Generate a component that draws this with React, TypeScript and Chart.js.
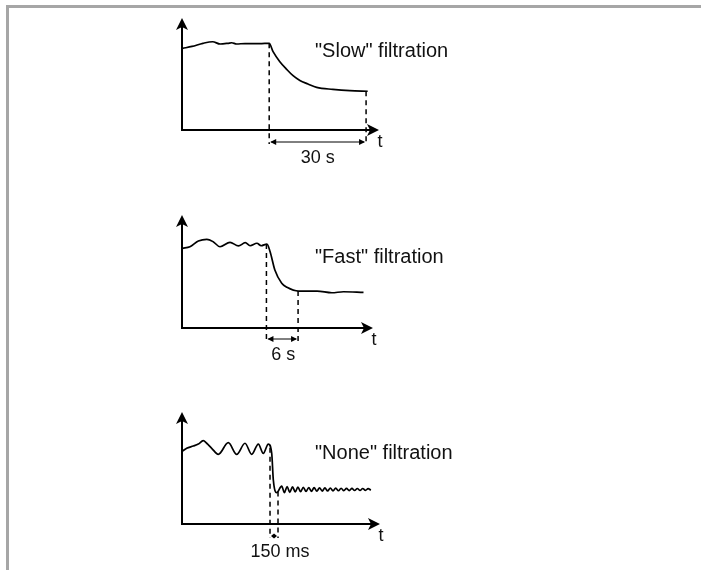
import React, { useEffect, useRef } from "react";
import { Chart, registerables } from "chart.js";

Chart.register(...registerables);

// ---------- Data (time on x, signal level in % of the y-axis on y) ----------

// Panel 1: "Slow" filtration, time in s
const slowTitle = '"Slow" filtration';
const slowTimes = [0.2, 3.1, 6.5, 9.5, 11.8, 14.2, 15.4, 16.9, 19.5, 22.0, 24.7, 27.0, 28.2, 30.3, 32.4, 34.3, 36.5, 39.0, 41.7, 46.7, 52.0, 57.5];
const slowLevels = [72.9, 74.6, 77.4, 78.8, 76.8, 77.4, 77.9, 76.8, 77.2, 77.1, 77.2, 77.4, 69.9, 61.0, 54.2, 48.7, 44.2, 41.1, 38.1, 36.3, 35.1, 34.6];
const slowMarkerTimes = [27, 57];
const slowMarkerLevels = [77.4, 34.6];
const slowMarkerLabel = "30 s";
const slowTimeMax = 61;

// Panel 2: "Fast" filtration, time in s
const fastTitle = '"Fast" filtration';
const fastTimes = [0.1, 1.5, 3.1, 4.7, 5.9, 7.2, 9.1, 10.7, 12.0, 12.9, 14.2, 15.0, 16.1, 16.7, 17.6, 18.9, 19.9, 22.1, 25.6, 28.4, 30.6, 34.4];
const fastLevels = [70.5, 71.9, 77.0, 78.5, 76.4, 71.9, 75.8, 72.6, 75.5, 72.8, 75.0, 72.8, 74.3, 67.5, 51.3, 39.6, 36.0, 32.7, 32.7, 31.2, 32.1, 31.6];
const fastMarkerTimes = [16, 22];
const fastMarkerLevels = [74.3, 32.7];
const fastMarkerLabel = "6 s";
const fastTimeMax = 36.2;

// Panel 3: "None" filtration, time in ms
const noneTitle = '"None" filtration';
const noneTimes = [13, 88, 212, 306, 399, 463, 557, 681, 868, 1026, 1181, 1307, 1431, 1524, 1618, 1682, 1712, 1776,
  1869, 1920, 1971, 2021, 2072, 2123, 2173, 2224, 2274, 2325, 2376, 2426, 2477, 2528, 2578, 2629, 2679, 2730,
  2781, 2831, 2882, 2933, 2983, 3034, 3084, 3135, 3186, 3236, 3287, 3338, 3388, 3439, 3489, 3540];
const noneLevels = [65.2, 67.6, 69.6, 71.4, 74.4, 72.1, 67.6, 62.2, 72.6, 62.2, 72.1, 62.2, 71.4, 63.1, 71.4, 63.1, 39.3, 27.9,
  33.8, 28.0, 33.5, 28.3, 33.2, 28.6, 33.0, 28.8, 32.8, 29.0, 32.6, 29.2, 32.4, 29.3, 32.3, 29.4, 32.2, 29.5,
  32.1, 29.6, 32.0, 29.7, 31.9, 29.8, 31.8, 29.8, 31.8, 29.9, 31.7, 29.9, 31.7, 30.0, 31.6, 30.2];
const noneMarkerTimes = [1650, 1800];
const noneMarkerLevels = [68, 29];
const noneMarkerLabel = "150 ms";
const noneTimeMax = 3712;

const timeAxisLabel = "t";

// ---------- Layout / style ----------
const FONT = "'Liberation Sans', Arial, Helvetica, sans-serif";

type PanelCfg = {
  title: string;
  times: number[];
  levels: number[];
  markerTimes: number[];
  markerLevels: number[];
  markerLabel: string;
  timeMax: number;
  top: number;
  padding: { left: number; right: number; top: number; bottom: number };
  titleDy: number;
  arrowGap: number;
  labelShift: number;
};

const panels: PanelCfg[] = [
  {
    title: slowTitle, times: slowTimes, levels: slowLevels, markerTimes: slowMarkerTimes,
    markerLevels: slowMarkerLevels, markerLabel: slowMarkerLabel, timeMax: slowTimeMax,
    top: 0, padding: { left: 182, right: 322, top: 18, bottom: 60 }, titleDy: 39, arrowGap: 12, labelShift: 0,
  },
  {
    title: fastTitle, times: fastTimes, levels: fastLevels, markerTimes: fastMarkerTimes,
    markerLevels: fastMarkerLevels, markerLabel: fastMarkerLabel, timeMax: fastTimeMax,
    top: 190, padding: { left: 182, right: 328, top: 25, bottom: 52 }, titleDy: 48, arrowGap: 11, labelShift: 1,
  },
  {
    title: noneTitle, times: noneTimes, levels: noneLevels, markerTimes: noneMarkerTimes,
    markerLevels: noneMarkerLevels, markerLabel: noneMarkerLabel, timeMax: noneTimeMax,
    top: 380, padding: { left: 182, right: 321, top: 32, bottom: 46 }, titleDy: 47, arrowGap: 12, labelShift: 6,
  },
];

const diagramPlugin = {
  id: "diagram",
  afterDraw(chart: any, _args: any, opts: any) {
    const { ctx, chartArea: a, scales } = chart;
    const xs = scales.x;
    const ys = scales.y;
    ctx.save();
    ctx.strokeStyle = "#000";
    ctx.fillStyle = "#000";

    // axes
    ctx.lineWidth = 2;
    ctx.beginPath();
    ctx.moveTo(a.left, a.bottom + 1);
    ctx.lineTo(a.left, a.top + 8);
    ctx.stroke();
    ctx.beginPath();
    ctx.moveTo(a.left - 1, a.bottom);
    ctx.lineTo(a.right - 8, a.bottom);
    ctx.stroke();

    // axis arrowheads
    ctx.beginPath();
    ctx.moveTo(a.left, a.top);
    ctx.lineTo(a.left + 6, a.top + 12);
    ctx.lineTo(a.left, a.top + 9);
    ctx.lineTo(a.left - 6, a.top + 12);
    ctx.closePath();
    ctx.fill();
    ctx.beginPath();
    ctx.moveTo(a.right, a.bottom);
    ctx.lineTo(a.right - 12, a.bottom - 6);
    ctx.lineTo(a.right - 9, a.bottom);
    ctx.lineTo(a.right - 12, a.bottom + 6);
    ctx.closePath();
    ctx.fill();

    // dashed markers
    const ay = a.bottom + opts.arrowGap;
    const mx: number[] = opts.markerTimes.map((t: number) => xs.getPixelForValue(t));
    ctx.lineWidth = 1.5;
    ctx.setLineDash([5, 4]);
    mx.forEach((x: number, i: number) => {
      const y0 = ys.getPixelForValue(opts.markerLevels[i]);
      ctx.beginPath();
      ctx.moveTo(x, y0);
      ctx.lineTo(x, ay + 2);
      ctx.stroke();
    });
    ctx.setLineDash([]);

    // double-headed arrow
    const x1 = mx[0] + 1;
    const x2 = mx[1] - 1;
    const hl = Math.max(3, Math.min(6, (x2 - x1) / 2.2));
    const hh = hl < 5 ? 2.5 : 3;
    ctx.lineWidth = 1;
    ctx.beginPath();
    ctx.moveTo(x1 + 1, ay);
    ctx.lineTo(x2 - 1, ay);
    ctx.stroke();
    ctx.beginPath();
    ctx.moveTo(x1, ay);
    ctx.lineTo(x1 + hl, ay - hh);
    ctx.lineTo(x1 + hl, ay + hh);
    ctx.closePath();
    ctx.fill();
    ctx.beginPath();
    ctx.moveTo(x2, ay);
    ctx.lineTo(x2 - hl, ay - hh);
    ctx.lineTo(x2 - hl, ay + hh);
    ctx.closePath();
    ctx.fill();

    // texts
    ctx.fillStyle = "#111";
    ctx.textBaseline = "alphabetic";
    ctx.font = `18px ${FONT}`;
    ctx.textAlign = "center";
    ctx.fillText(opts.markerLabel, (mx[0] + mx[1]) / 2 + opts.labelShift, ay + 21);
    ctx.textAlign = "left";
    ctx.fillText(opts.axisLabel, a.right - 1.5, a.bottom + 17);
    ctx.font = `20px ${FONT}`;
    ctx.fillText(opts.title, a.left + 133, a.top + opts.titleDy);
    ctx.restore();
  },
};

function Panel({ cfg }: { cfg: PanelCfg }) {
  const ref = useRef<HTMLCanvasElement | null>(null);
  useEffect(() => {
    if (!ref.current) return;
    const chart = new Chart(ref.current, {
      type: "line",
      data: {
        datasets: [
          {
            data: cfg.times.map((t, i) => ({ x: t, y: cfg.levels[i] })),
            borderColor: "#000",
            borderWidth: 1.7,
            pointRadius: 0,
            cubicInterpolationMode: "monotone",
            fill: false,
            clip: false as any,
          },
        ],
      },
      options: {
        animation: false,
        responsive: false,
        maintainAspectRatio: false,
        events: [],
        layout: { padding: cfg.padding },
        scales: {
          x: { type: "linear", min: 0, max: cfg.timeMax, display: false },
          y: { type: "linear", min: 0, max: 100, display: false },
        },
        plugins: {
          legend: { display: false },
          tooltip: { enabled: false },
          diagram: {
            title: cfg.title,
            markerTimes: cfg.markerTimes,
            markerLevels: cfg.markerLevels,
            markerLabel: cfg.markerLabel,
            axisLabel: timeAxisLabel,
            titleDy: cfg.titleDy,
            arrowGap: cfg.arrowGap,
            labelShift: cfg.labelShift,
          },
        } as any,
      },
      plugins: [diagramPlugin],
    });
    return () => chart.destroy();
  }, [cfg]);
  return (
    <canvas
      ref={ref}
      width={701}
      height={190}
      style={{ position: "absolute", left: 0, top: cfg.top, width: 701, height: 190 }}
    />
  );
}

export default function App() {
  return (
    <div style={{ position: "absolute", left: 0, top: 0, width: 701, height: 570, background: "#fff", overflow: "hidden" }}>
      <div
        style={{
          position: "absolute",
          left: 6,
          top: 5,
          width: 701,
          height: 570,
          borderTop: "3px solid #a6a6a6",
          borderLeft: "3px solid #a6a6a6",
          boxSizing: "border-box",
        }}
      />
      {panels.map((p, i) => (
        <Panel key={i} cfg={p} />
      ))}
    </div>
  );
}
